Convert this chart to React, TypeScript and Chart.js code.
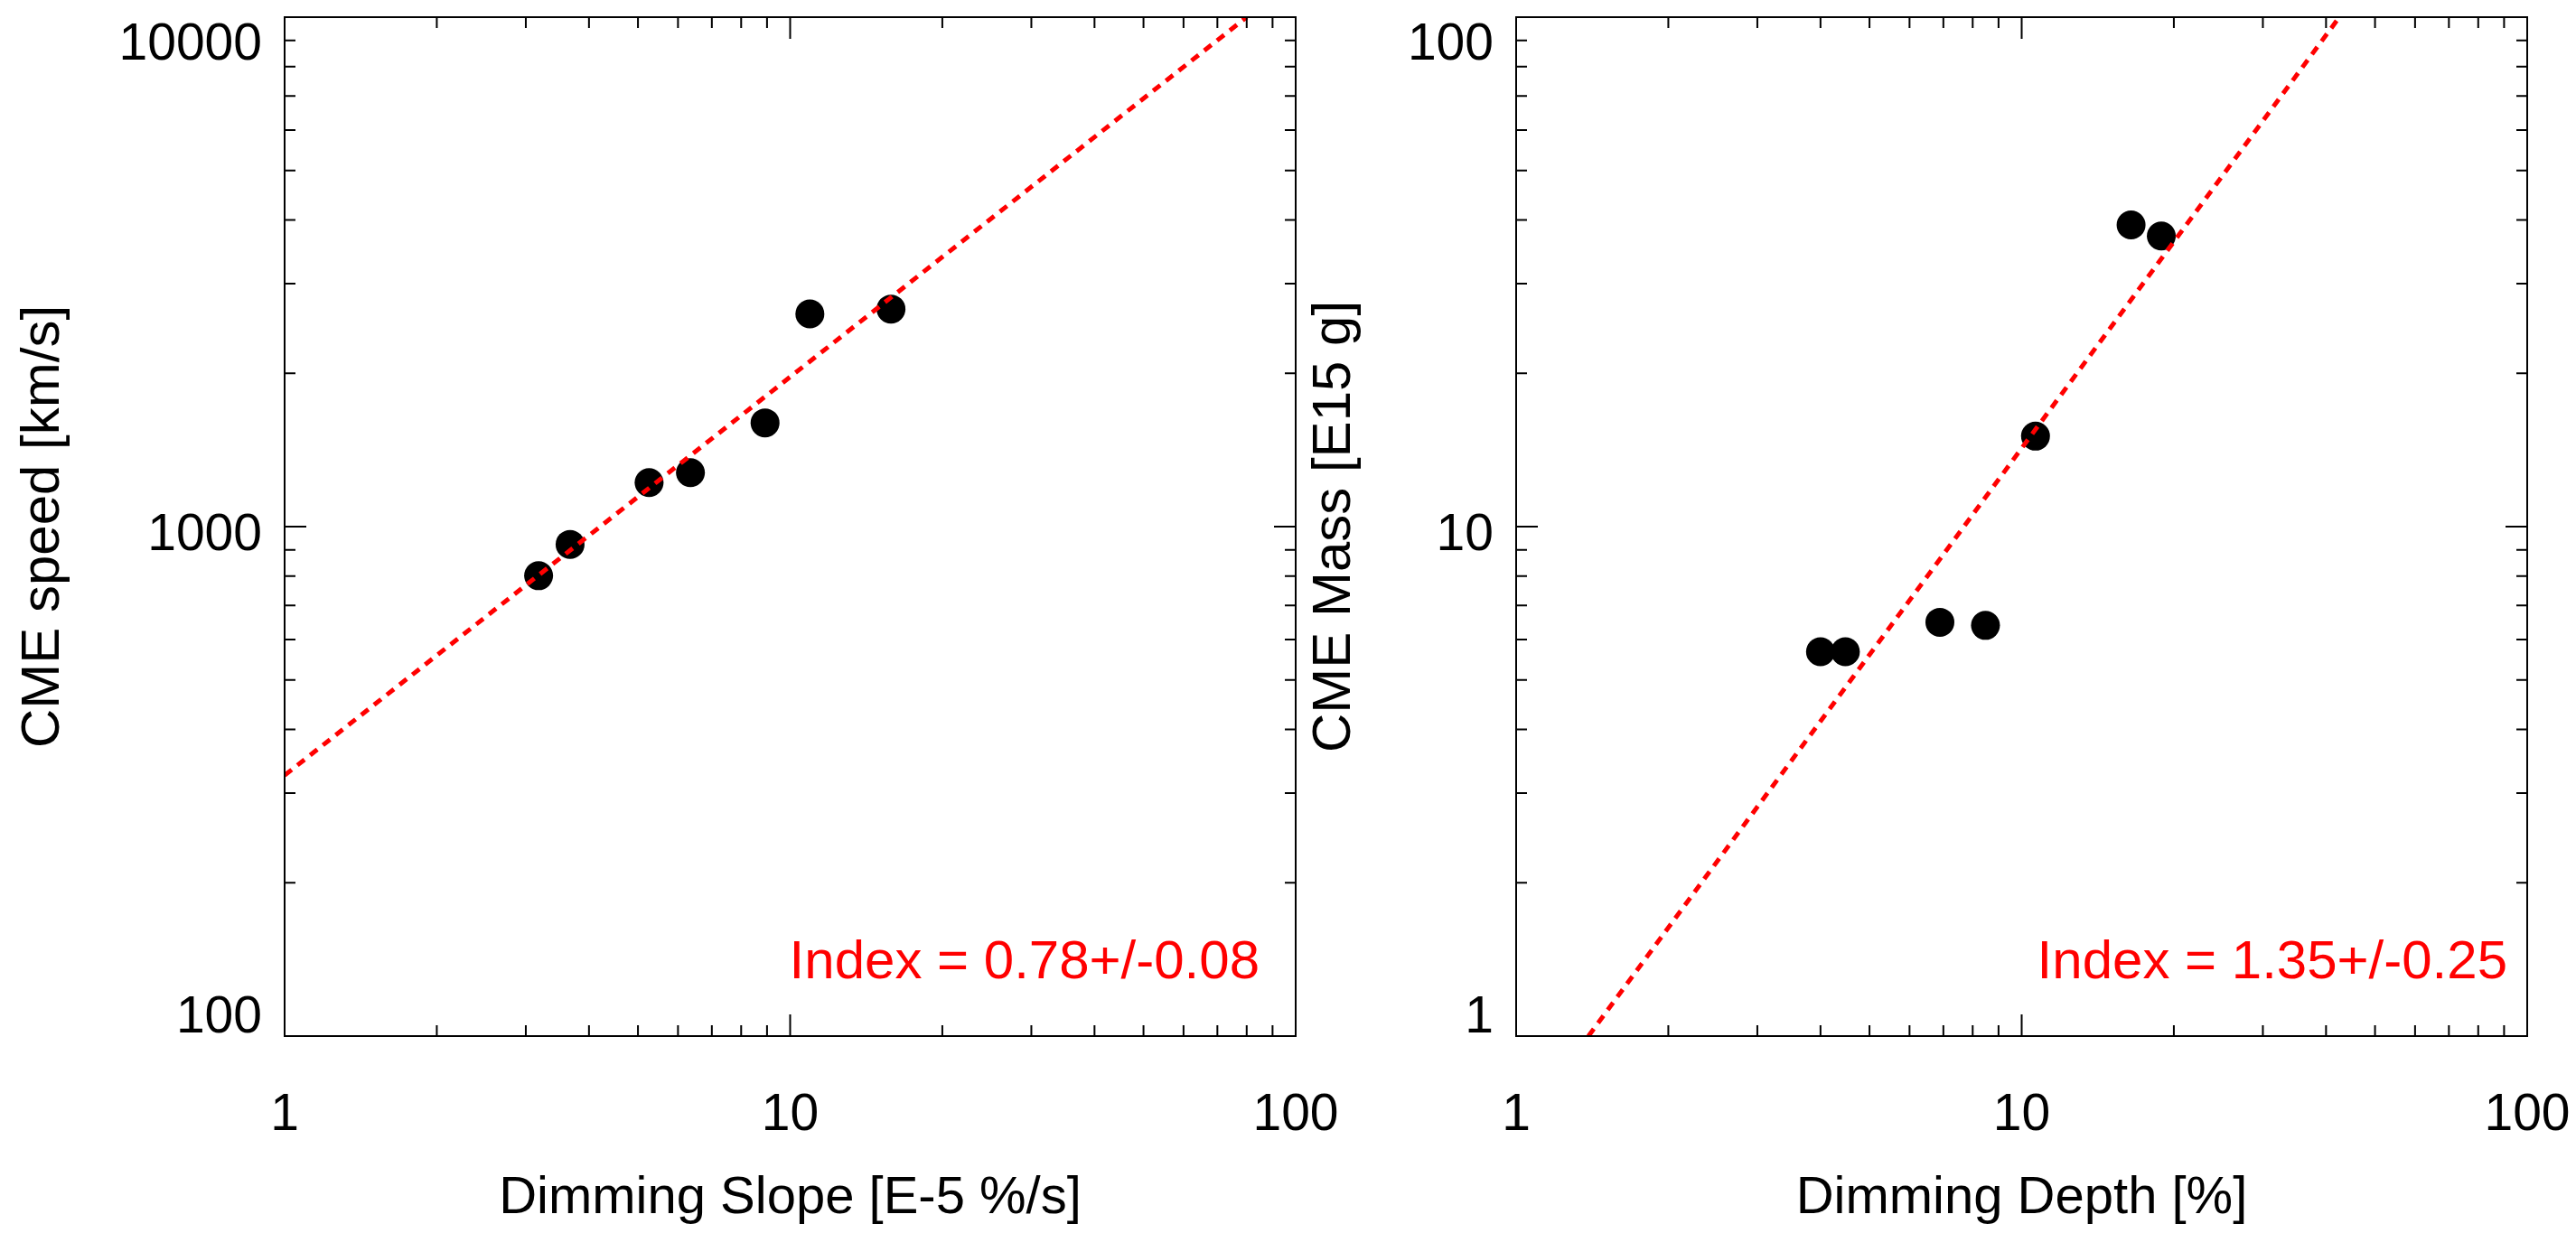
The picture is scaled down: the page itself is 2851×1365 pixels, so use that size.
import React, { useEffect, useRef } from 'react';
import { Chart, registerables } from 'chart.js';

Chart.register(...registerables);

const FONT = '"Liberation Sans", Arial, Helvetica, sans-serif';

// ---- Left panel: Dimming slope vs CME speed ----
const slopeValues = [3.18, 3.67, 5.26, 6.35, 8.92, 10.94, 15.83];
const speedValues = [801, 923, 1220, 1276, 1598, 2615, 2673];
const slopeFitX = [1, 80];
const slopeFitY = [325, 10000];

// ---- Right panel: Dimming depth vs CME mass ----
const depthValues = [4.0, 4.48, 6.89, 8.48, 10.65, 16.46, 18.89];
const massValues = [5.68, 5.68, 6.49, 6.4, 15.05, 39.1, 37.2];
const depthFitX = [1.39, 42.5];
const depthFitY = [1, 100];

// ---- Tick labels ----
const xTickValues = [1, 10, 100];
const xTickLabels = ['1', '10', '100'];
const speedTickValues = [100, 1000, 10000];
const speedTickLabels = ['100', '1000', '10000'];
const massTickValues = [1, 10, 100];
const massTickLabels = ['1', '10', '100'];

const framePlugin = {
  id: 'idlFrame',
  afterDraw(chart: any, _args: any, opts: any) {
    const { ctx, chartArea: a, scales } = chart;
    const xs = scales.x;
    const ys = scales.y;
    ctx.save();
    ctx.strokeStyle = '#000';
    ctx.lineWidth = 2;
    ctx.strokeRect(a.left, a.top, a.right - a.left, a.bottom - a.top);

    const logTicks = (s: any) => {
      const out: { v: number; major: boolean }[] = [];
      const e0 = Math.floor(Math.log10(s.min));
      const e1 = Math.ceil(Math.log10(s.max));
      for (let e = e0; e <= e1; e++) {
        for (let m = 1; m <= 9; m++) {
          const v = m * Math.pow(10, e);
          if (v >= s.min * 0.9999 && v <= s.max * 1.0001) out.push({ v, major: m === 1 });
        }
      }
      return out;
    };

    ctx.beginPath();
    for (const t of logTicks(xs)) {
      const px = xs.getPixelForValue(t.v);
      const L = t.major ? 24 : 12;
      ctx.moveTo(px, a.bottom);
      ctx.lineTo(px, a.bottom - L);
      ctx.moveTo(px, a.top);
      ctx.lineTo(px, a.top + L);
    }
    for (const t of logTicks(ys)) {
      const py = ys.getPixelForValue(t.v);
      const L = t.major ? 24 : 12;
      ctx.moveTo(a.left, py);
      ctx.lineTo(a.left + L, py);
      ctx.moveTo(a.right, py);
      ctx.lineTo(a.right - L, py);
    }
    ctx.stroke();

    // y tick labels
    ctx.font = `57px ${FONT}`;
    ctx.fillStyle = '#000';
    ctx.textAlign = 'right';
    ctx.textBaseline = 'middle';
    const shifts = [-20, 10, 31];
    opts.yValues.forEach((v: number, i: number) => {
      const py = ys.getPixelForValue(v) + shifts[i];
      ctx.fillText(opts.yLabels[i], a.left - 25, py);
    });

    // index annotation
    ctx.font = `60px ${FONT}`;
    ctx.fillStyle = '#ff0000';
    ctx.textAlign = 'right';
    ctx.textBaseline = 'alphabetic';
    ctx.fillText(opts.indexText, a.right - opts.indexInset, a.bottom - 64);
    ctx.restore();
  },
};

type PanelProps = {
  left: number;
  width: number;
  yWidth: number;
  padRight: number;
  yTitlePad: number;
  xs: number[];
  ys: number[];
  fitX: number[];
  fitY: number[];
  yMin: number;
  yMax: number;
  yValues: number[];
  yLabels: string[];
  xTitle: string;
  yTitle: string;
  indexText: string;
  indexInset: number;
};

function Panel(p: PanelProps) {
  const ref = useRef<HTMLCanvasElement | null>(null);
  useEffect(() => {
    if (!ref.current) return;
    const pts = p.xs.map((x, i) => ({ x, y: p.ys[i] }));
    const fit = p.fitX.map((x, i) => ({ x, y: p.fitY[i] }));
    const chart = new Chart(ref.current, {
      type: 'scatter',
      data: {
        datasets: [
          {
            type: 'line',
            data: fit,
            borderColor: '#ff0000',
            borderWidth: 5,
            borderDash: [10, 8],
            pointRadius: 0,
            fill: false,
            tension: 0,
            order: 0,
            clip: 0,
          } as any,
          {
            type: 'scatter',
            data: pts,
            backgroundColor: '#000',
            borderColor: '#000',
            borderWidth: 0,
            pointRadius: 16,
            pointHoverRadius: 16,
            order: 1,
          } as any,
        ],
      },
      options: {
        animation: false,
        responsive: false,
        maintainAspectRatio: false,
        devicePixelRatio: 1,
        events: [],
        layout: { padding: { top: 19, left: 0, right: p.padRight, bottom: 0 } },
        plugins: {
          legend: { display: false },
          tooltip: { enabled: false },
          idlFrame: {
            yValues: p.yValues,
            yLabels: p.yLabels,
            indexText: p.indexText,
            indexInset: p.indexInset,
          },
        } as any,
        scales: {
          x: {
            type: 'logarithmic',
            position: 'bottom',
            min: 1,
            max: 100,
            afterBuildTicks: (s: any) => {
              s.ticks = xTickValues.map((v) => ({ value: v }));
            },
            ticks: {
              autoSkip: false,
              maxRotation: 0,
              minRotation: 0,
              padding: 54,
              color: '#000',
              font: { family: FONT, size: 57 },
              callback: (v: any) => {
                const i = xTickValues.indexOf(Number(v));
                return i >= 0 ? xTickLabels[i] : '';
              },
            },
            grid: { display: false, drawTicks: false },
            border: { display: false },
            title: {
              display: true,
              text: p.xTitle,
              color: '#000',
              font: { family: FONT, size: 58 },
              padding: { top: 0, bottom: 3 },
            },
            afterFit: (s: any) => {
              s.height = 218;
              s.paddingLeft = 0;
              s.paddingRight = 0;
            },
          } as any,
          y: {
            type: 'logarithmic',
            position: 'left',
            min: p.yMin,
            max: p.yMax,
            afterBuildTicks: (s: any) => {
              s.ticks = p.yValues.map((v) => ({ value: v }));
            },
            ticks: { display: false },
            grid: { display: false, drawTicks: false },
            border: { display: false },
            title: {
              display: true,
              text: p.yTitle,
              color: '#000',
              font: { family: FONT, size: 60 },
              padding: { top: p.yTitlePad, bottom: 0 },
            },
            afterFit: (s: any) => {
              s.width = p.yWidth;
              s.paddingTop = 0;
              s.paddingBottom = 0;
            },
          } as any,
        },
      },
      plugins: [framePlugin as any],
    });
    return () => chart.destroy();
  }, []);
  return (
    <canvas
      ref={ref}
      width={p.width}
      height={1365}
      style={{ position: 'absolute', left: p.left, top: 0, width: p.width, height: 1365, display: 'block' }}
    />
  );
}

export default function App() {
  return (
    <div style={{ position: 'absolute', left: 0, top: 0, width: 2851, height: 1365, background: '#fff', overflow: 'hidden' }}>
      <Panel
        left={0}
        width={1520}
        yWidth={315}
        padRight={86}
        yTitlePad={12}
        xs={slopeValues}
        ys={speedValues}
        fitX={slopeFitX}
        fitY={slopeFitY}
        yMin={100}
        yMax={10000}
        yValues={speedTickValues}
        yLabels={speedTickLabels}
        xTitle="Dimming Slope [E-5 %/s]"
        yTitle="CME speed [km/s]"
        indexText="Index = 0.78+/-0.08"
        indexInset={40}
      />
      <Panel
        left={1400}
        width={1451}
        yWidth={278}
        padRight={54}
        yTitlePad={41}
        xs={depthValues}
        ys={massValues}
        fitX={depthFitX}
        fitY={depthFitY}
        yMin={1}
        yMax={100}
        yValues={massTickValues}
        yLabels={massTickLabels}
        xTitle="Dimming Depth [%]"
        yTitle="CME Mass [E15 g]"
        indexText="Index = 1.35+/-0.25"
        indexInset={22}
      />
    </div>
  );
}
